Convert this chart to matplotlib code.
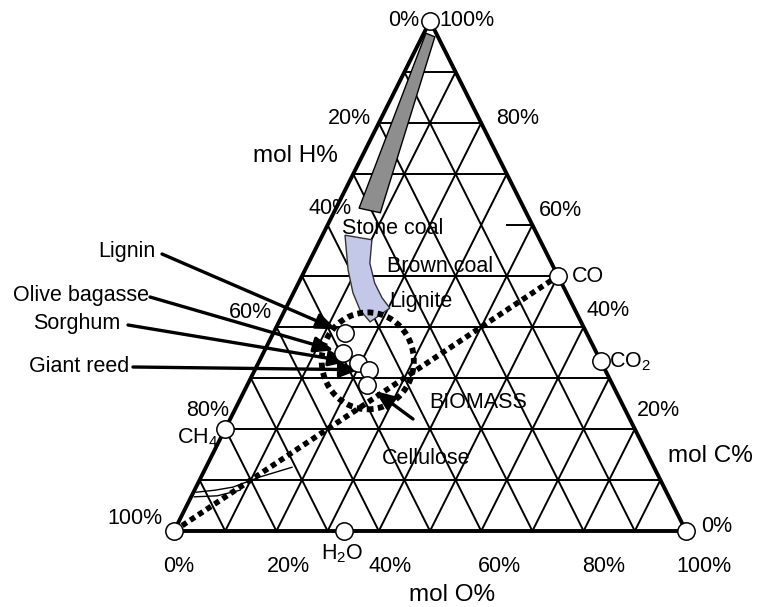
import numpy as np
import matplotlib.pyplot as plt
from matplotlib.patches import Polygon, Ellipse

plt.rcParams['font.family'] = ['Liberation Sans', 'DejaVu Sans']
plt.rcParams['mathtext.fontset'] = 'custom'
plt.rcParams['mathtext.rm'] = 'Liberation Sans'
plt.rcParams['mathtext.it'] = 'Liberation Sans:italic'

# compositions in mol % (H, O, C); H = 100 - O - C
biomass_names = ['Lignin', 'Olive bagasse', 'Sorghum', 'Giant reed', 'Cellulose']
biomass_O = [14.0, 15.6, 19.5, 22.3, 23.4]
biomass_C = [38.8, 34.9, 32.9, 31.6, 28.6]

ref_names = ['C', 'H', 'O', 'CO', 'CO$_2$', 'CH$_4$', 'H$_2$O']
ref_O = [0, 0, 100, 50, 66.7, 0, 33.3]
ref_C = [100, 0, 0, 50, 33.3, 20, 0]

# stone coal band and brown coal / lignite region
stone_O = [0.4, 2.5, 9.1, 4.5]
stone_C = [97.6, 96.9, 62.4, 63.3]
brown_O = [4.4, 10.1, 12.0, 14.9, 17.8, 20.3, 17.8, 14.7, 11.6, 8.4]
brown_C = [58.0, 57.1, 52.5, 48.6, 45.7, 43.7, 41.0, 43.3, 46.7, 51.2]

# two thin curves near the H corner
curve1_O = [0.5, 4.0, 7.2, 11.5, 16.8]
curve1_C = [7.6, 8.0, 8.6, 10.6, 12.5]
curve2_O = [0.6, 5.0, 8.9]
curve2_C = [6.7, 6.9, 8.0]

ticks = [10, 20, 30, 40, 50, 60, 70, 80, 90]


def tern(O, C):
    O = np.asarray(O, dtype=float) / 100
    C = np.asarray(C, dtype=float) / 100
    return O + C / 2, C


def P(px, py):
    # pixel position in the figure -> axes data coords
    return (px - 174) / 512, (531 - py) / 510


fig = plt.figure(figsize=(7.57, 6.07), dpi=100)
ax = fig.add_axes([0, 0, 1, 1])
ax.set_xlim(-174 / 512, 583 / 512)
ax.set_ylim(-76 / 510, 531 / 510)
ax.axis('off')

# grid
glw = 1.4
for k in ticks:
    if k != 60:
        x, y = tern([0, 100 - k], [k, k])
        ax.plot(x, y, color='black', lw=glw, zorder=1)
    x, y = tern([k, k], [0, 100 - k])
    ax.plot(x, y, color='black', lw=glw, zorder=1)
    x, y = tern([100 - k, 0], [0, 100 - k])
    ax.plot(x, y, color='black', lw=glw, zorder=1)
x, y = tern([35, 40], [60, 60])
ax.plot(x, y, color='black', lw=glw, zorder=1)

# outline
x, y = tern([0, 100, 0, 0], [0, 0, 100, 0])
ax.plot(x, y, color='black', lw=2.8, zorder=2, solid_joinstyle='miter')

# coal regions
x, y = tern(stone_O, stone_C)
ax.add_patch(Polygon(np.column_stack([x, y]), closed=True, facecolor='#8e8e8e',
                     edgecolor='black', lw=1, zorder=3))
x, y = tern(brown_O, brown_C)
ax.add_patch(Polygon(np.column_stack([x, y]), closed=True, facecolor='#c4c8e8',
                     edgecolor='#333333', lw=1, zorder=3))

# thin curves
for co, cc in [(curve1_O, curve1_C), (curve2_O, curve2_C)]:
    x, y = tern(co, cc)
    ax.plot(x, y, color='black', lw=1.0, zorder=3)

# dotted H -> CO line and biomass ellipse
dots = (0, (1, 0.75))
x, y = tern([0, 50], [0, 50])
ax.plot(x, y, color='black', lw=4.0, ls=dots, zorder=4)
bx, by = tern(biomass_O, biomass_C)
ax.add_patch(Ellipse((np.mean(bx) + 0.022, np.mean(by)), 0.18, 0.19, fill=False,
                     edgecolor='black', lw=4.2, ls=dots, zorder=4))

# arrows from labels to biomass points
label_px = [(155, 252), (149, 295), (120, 324), (129, 367)]
arrow_start = [(162, 254), (150, 297), (128, 325), (133, 367), (413, 419)]
aprops = dict(arrowstyle='-|>,head_length=0.65,head_width=0.26', color='black',
              lw=2.4, shrinkA=0, shrinkB=7, mutation_scale=18)
for i in range(len(biomass_names)):
    ax.annotate('', xy=(bx[i], by[i]), xytext=P(*arrow_start[i]),
                arrowprops=aprops, zorder=5)
for name, (px, py) in zip(biomass_names[:4], label_px):
    ax.text(*P(px, py), name, ha='right', va='center', fontsize=15.5)

# markers
ax.plot(bx, by, 'o', ms=12.5, mfc='white', mec='black', mew=1.1, zorder=6)
rx, ry = tern(ref_O, ref_C)
ax.plot(rx, ry, 'o', ms=12.5, mfc='white', mec='black', mew=1.1, zorder=6,
        clip_on=False)

# texts
fs = 15.5
labels = [
    ('0%', 404, 20), ('100%', 467, 20),
    ('20%', 349, 119), ('80%', 518, 118),
    ('40%', 330, 209), ('60%', 560, 210),
    ('Stone coal', 393, 228), ('Brown coal', 440, 266), ('Lignite', 421, 302),
    ('CO', 588, 276),
    ('60%', 250, 313), ('40%', 608, 311),
    ('CO$_2$', 630, 362),
    ('BIOMASS', 478, 403),
    ('80%', 208, 410), ('20%', 658, 410),
    ('CH$_4$', 198, 438),
    ('Cellulose', 426, 459),
    ('100%', 135, 519), ('0%', 717, 527),
    ('0%', 179, 566), ('20%', 288, 566), ('H$_2$O', 342, 554),
    ('40%', 390, 566), ('60%', 499, 566), ('80%', 604, 566), ('100%', 704, 566),
]
for t, px, py in labels:
    ax.text(*P(px, py), t, ha='center', va='center', fontsize=fs, zorder=7)

# axis titles
for t, px, py in [('mol H%', 295, 156), ('mol C%', 710, 456), ('mol O%', 452, 595)]:
    ax.text(*P(px, py), t, ha='center', va='center', fontsize=17.5, zorder=7)

fig.savefig('out.png', dpi=100)
